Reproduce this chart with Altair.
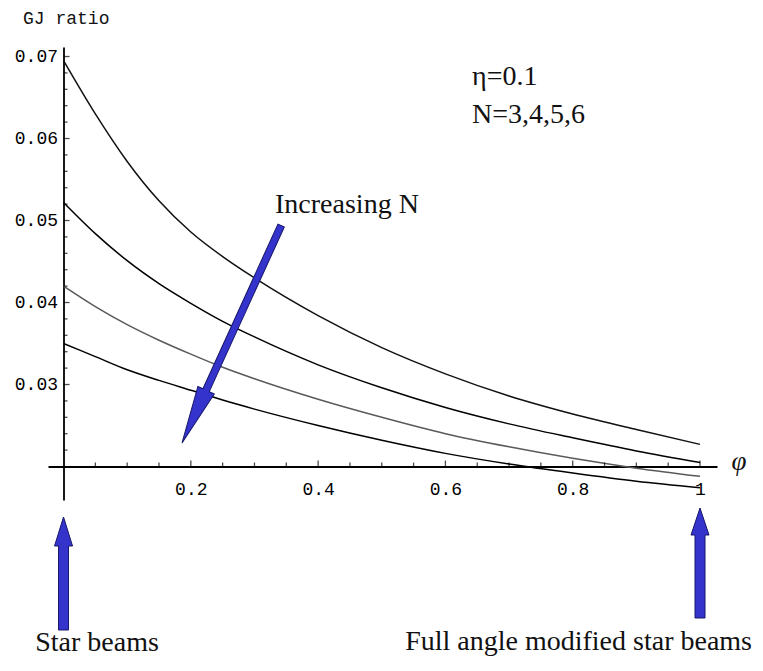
import altair as alt
import pandas as pd

# ---- data ----
phi = [0, 0.05, 0.1, 0.15, 0.2, 0.25, 0.3, 0.4, 0.5, 0.6, 0.7, 0.8, 0.9, 1.0]
gj_n3 = [0.0695, 0.0630, 0.0572, 0.0524, 0.0486, 0.0456, 0.0430, 0.0384, 0.0345, 0.0313, 0.0286, 0.0264, 0.0245, 0.0227]
gj_n4 = [0.0522, 0.0484, 0.0451, 0.0423, 0.0399, 0.0377, 0.0358, 0.0324, 0.0296, 0.0272, 0.0252, 0.0235, 0.0219, 0.0205]
gj_n5 = [0.0420, 0.0395, 0.0373, 0.0354, 0.0337, 0.0321, 0.0307, 0.0282, 0.0260, 0.0240, 0.0224, 0.0210, 0.0198, 0.0188]
gj_n6 = [0.0350, 0.0334, 0.0318, 0.0305, 0.0293, 0.0281, 0.0270, 0.0250, 0.0232, 0.0216, 0.0203, 0.0192, 0.0182, 0.0174]
series_names = ["N=3", "N=4", "N=5", "N=6"]
series_colors = ["#111111", "#000000", "#5a5a5a", "#000000"]

x_tick_labels = [0.2, 0.4, 0.6, 0.8, 1.0]
x_minor = [0.05, 0.1, 0.15, 0.25, 0.3, 0.35, 0.45, 0.5, 0.55, 0.65, 0.7, 0.75, 0.85, 0.9, 0.95]
y_tick_labels = [0.03, 0.04, 0.05, 0.06, 0.07]
y_minor = [0.022, 0.024, 0.026, 0.028, 0.032, 0.034, 0.036, 0.038, 0.042, 0.044, 0.046, 0.048,
           0.052, 0.054, 0.056, 0.058, 0.062, 0.064, 0.066, 0.068]

# annotations (data coordinates)
arrow_x = [0.1862, 0.0, 1.0]
arrow_y = [0.02287, 0.01384, 0.01494]
arrow_angle = [204.5, 0, 0]
arrow_dims = [(239, 58, 9, 3.5), (113, 29, 9, 5), (110, 27, 9, 5)]  # length, head length, head half width, shaft half width

note_text = ["η=0.1", "N=3,4,5,6", "Increasing N"]
note_x = [0.6418, 0.6418, 0.3323]
note_y = [0.06652, 0.06189, 0.05092]

bottom_text = ["Star beams", "Full angle modified star beams"]
bottom_x = [0.0526, 1.0817]
bottom_y = [-0.0025, -0.00238]

X_DOMAIN = [-0.0244, 1.0267]
Y_DOMAIN = [0.015915, 0.07116]

# ---- tables ----
rows = []
for name, vals in zip(series_names, [gj_n3, gj_n4, gj_n5, gj_n6]):
    for p, v in zip(phi, vals):
        rows.append({"phi": p, "gj": v, "series": name})
curves = pd.DataFrame(rows)

xs = alt.Scale(domain=X_DOMAIN, nice=False, zero=False)
ys = alt.Scale(domain=Y_DOMAIN, nice=False, zero=False)

TICK_FONT = dict(labelFont="Liberation Mono", labelFontSize=18, labelColor="#000000")

lines = alt.Chart(curves).mark_line(strokeWidth=1.5, interpolate="monotone").encode(
    x=alt.X("phi:Q", scale=xs, axis=alt.Axis(
        values=x_tick_labels, format="~g", title=None, grid=False, ticks=False, tickSize=0,
        labelPadding=14, domainColor="#000000", domainWidth=1.8, offset=-33.5, labelFlush=False,
        **TICK_FONT)),
    y=alt.Y("gj:Q", scale=ys, axis=alt.Axis(
        values=y_tick_labels, format=".2f", title=None, grid=False, ticks=False, tickSize=0,
        labelPadding=6, domainColor="#000000", domainWidth=1.8, offset=-15.5, labelFlush=False,
        **TICK_FONT)),
    color=alt.Color("series:N", scale=alt.Scale(domain=series_names, range=series_colors), legend=None),
    detail="series:N",
)

xt_major = alt.Chart(pd.DataFrame({"phi": x_tick_labels, "gj": [0.02] * len(x_tick_labels)})).mark_tick(
    orient="vertical", size=6, thickness=1.3, color="#000000", yOffset=-3).encode(
    x=alt.X("phi:Q", scale=xs), y=alt.Y("gj:Q", scale=ys))
xt_minor = alt.Chart(pd.DataFrame({"phi": x_minor, "gj": [0.02] * len(x_minor)})).mark_tick(
    orient="vertical", size=4, thickness=1.3, color="#000000", yOffset=-2).encode(
    x=alt.X("phi:Q", scale=xs), y=alt.Y("gj:Q", scale=ys))
yt_major = alt.Chart(pd.DataFrame({"phi": [0.0] * len(y_tick_labels), "gj": y_tick_labels})).mark_tick(
    orient="horizontal", size=6, thickness=1.3, color="#000000", xOffset=3).encode(
    x=alt.X("phi:Q", scale=xs), y=alt.Y("gj:Q", scale=ys))
yt_minor = alt.Chart(pd.DataFrame({"phi": [0.0] * len(y_minor), "gj": y_minor})).mark_tick(
    orient="horizontal", size=4, thickness=1.3, color="#000000", xOffset=2).encode(
    x=alt.X("phi:Q", scale=xs), y=alt.Y("gj:Q", scale=ys))


def arrow_path(L, hl, hw, sw):
    return (f"M0,0 L{hw},{hl} L{sw},{hl} L{sw},{L} L{-sw},{L} "
            f"L{-sw},{hl} L{-hw},{hl} Z")


arrows_df = pd.DataFrame({
    "phi": arrow_x, "gj": arrow_y, "angle": arrow_angle,
    "path": [arrow_path(*d) for d in arrow_dims],
})
arrows = alt.Chart(arrows_df).mark_point(
    filled=True, size=4, fill="#3434cc", stroke="#16166a", strokeWidth=1, opacity=1, fillOpacity=1).encode(
    x=alt.X("phi:Q", scale=xs), y=alt.Y("gj:Q", scale=ys),
    shape=alt.Shape("path:N", scale=None),
    angle=alt.Angle("angle:Q", scale=None),
)

notes = alt.Chart(pd.DataFrame({"phi": note_x, "gj": note_y, "t": note_text})).mark_text(
    font="Liberation Serif", fontSize=28, align="left", baseline="alphabetic", color="#111111").encode(
    x=alt.X("phi:Q", scale=xs), y=alt.Y("gj:Q", scale=ys), text="t:N")

bottom_df = pd.DataFrame({"phi": bottom_x, "gj": bottom_y, "t": bottom_text})
bottom_left = alt.Chart(bottom_df.iloc[[0]]).mark_text(
    font="Liberation Serif", fontSize=28, align="center", baseline="alphabetic", color="#111111").encode(
    x=alt.X("phi:Q", scale=xs), y=alt.Y("gj:Q", scale=ys), text="t:N")
bottom_right = alt.Chart(bottom_df.iloc[[1]]).mark_text(
    font="Liberation Serif", fontSize=28, align="right", baseline="alphabetic", color="#111111").encode(
    x=alt.X("phi:Q", scale=xs), y=alt.Y("gj:Q", scale=ys), text="t:N")

ylab = alt.Chart(pd.DataFrame({"phi": [-0.0636], "gj": [0.07396], "t": ["GJ ratio"]})).mark_text(
    font="Liberation Mono", fontSize=18, align="left", baseline="alphabetic",
    color="#111111").encode(
    x=alt.X("phi:Q", scale=xs), y=alt.Y("gj:Q", scale=ys), text="t:N")
xlab = alt.Chart(pd.DataFrame({"phi": [1.0613], "gj": [0.02055], "t": ["φ"]})).mark_text(
    font="Liberation Serif", fontSize=27, fontStyle="italic", align="center", baseline="middle",
    color="#111111").encode(
    x=alt.X("phi:Q", scale=xs), y=alt.Y("gj:Q", scale=ys), text="t:N")

chart = alt.layer(
    lines, xt_major, xt_minor, yt_major, yt_minor, arrows, notes, bottom_left, bottom_right, ylab, xlab
).properties(
    width=669, height=453,
    autosize=alt.AutoSizeParams(type="none"),
    padding={"left": 40, "top": 39, "right": 36, "bottom": 158},
    background="white",
).configure_view(stroke=None)

chart.save("out.html", embed_options={"renderer": "svg", "actions": False})
